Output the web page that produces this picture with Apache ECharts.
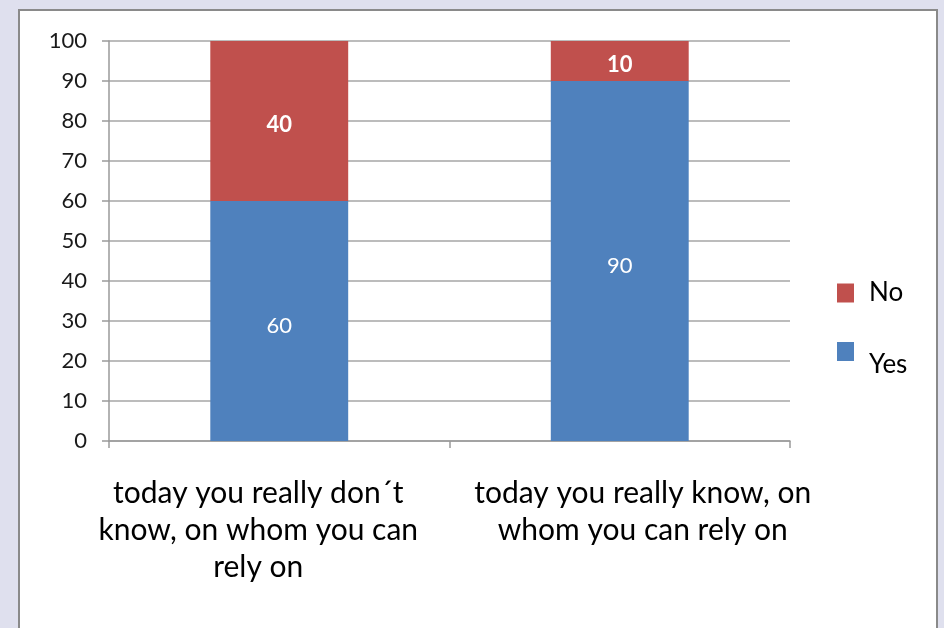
<!DOCTYPE html>
<html>
<head>
<meta charset="utf-8">
<script src="https://cdn.jsdelivr.net/npm/echarts@6/dist/echarts.min.js"></script>
<style>
html,body{margin:0;padding:0;background:#dfe0ee;}
#c{width:944px;height:628px;}
</style>
</head>
<body>
<div id="c"></div>
<script>
var categories = ["today you really don\u00b4t\nknow, on whom you can\nrely on", "today you really know, on\nwhom you can rely on"];
var yesValues = [60, 90];
var noValues = [40, 10];
var yTicks = {min: 0, max: 100, interval: 10};

var font = "Lato, 'Open Sans', sans-serif";
var labelPads = [[0, 42, 0, 0], [0, 0, 0, 46]];
var chart = echarts.init(document.getElementById('c'));
chart.setOption({
  backgroundColor: '#dfe0ee',
  animation: false,
  graphic: [{
    type: 'rect', z: -10,
    shape: {x: 19, y: 10, width: 918, height: 650},
    style: {fill: '#ffffff', stroke: '#8a8a8a', lineWidth: 2}
  }],
  grid: {left: 109, top: 41, right: 154, bottom: 187, containLabel: false},
  legend: [{
    left: 832, top: 275,
    itemWidth: 17, itemHeight: 19,
    icon: 'rect',
    data: ['No'],
    textStyle: {fontFamily: font, fontSize: 26, color: '#000', padding: [0, 0, 0, 10]}
  }, {
    left: 832, top: 333,
    itemWidth: 17, itemHeight: 19,
    icon: 'rect',
    data: ['Yes'],
    formatter: '{pad|}\n{name}',
    textStyle: {fontFamily: font, fontSize: 26, color: '#000', padding: [0, 0, 0, 10],
      rich: {pad: {fontSize: 1, lineHeight: 26}}}
  }],
  xAxis: {
    type: 'category',
    data: categories.map(function (c, i) { return {value: c, textStyle: {padding: labelPads[i]}}; }),
    axisLine: {show: true, lineStyle: {color: '#9a9a9a', width: 1.5}},
    axisTick: {show: true, length: 7, lineStyle: {color: '#9a9a9a', width: 1.5}},
    axisLabel: {fontFamily: font, fontSize: 30, color: '#000', lineHeight: 37, margin: 34, interval: 0, align: 'center'}
  },
  yAxis: {
    type: 'value', min: yTicks.min, max: yTicks.max, interval: yTicks.interval,
    axisLine: {show: true, lineStyle: {color: '#9a9a9a', width: 1.5}},
    axisTick: {show: true, length: 7, lineStyle: {color: '#9a9a9a', width: 1.5}},
    splitLine: {show: true, lineStyle: {color: '#a6a6a6', width: 1.5}},
    axisLabel: {fontFamily: font, fontSize: 22, color: '#1a1a1a', margin: 22}
  },
  series: [
    {
      name: 'Yes', type: 'bar', stack: 's', data: yesValues, barWidth: '40.5%',
      itemStyle: {color: '#4f81bd'},
      label: {show: true, position: 'inside', offset: [0, 5], color: '#fff', fontFamily: font, fontSize: 22}
    },
    {
      name: 'No', type: 'bar', stack: 's', data: noValues, barWidth: '40.5%',
      itemStyle: {color: '#c0504d'},
      label: {show: true, position: 'inside', offset: [0, 4], color: '#fff', fontFamily: font, fontSize: 22, fontWeight: 'bold'}
    }
  ]
});
</script>
</body>
</html>
